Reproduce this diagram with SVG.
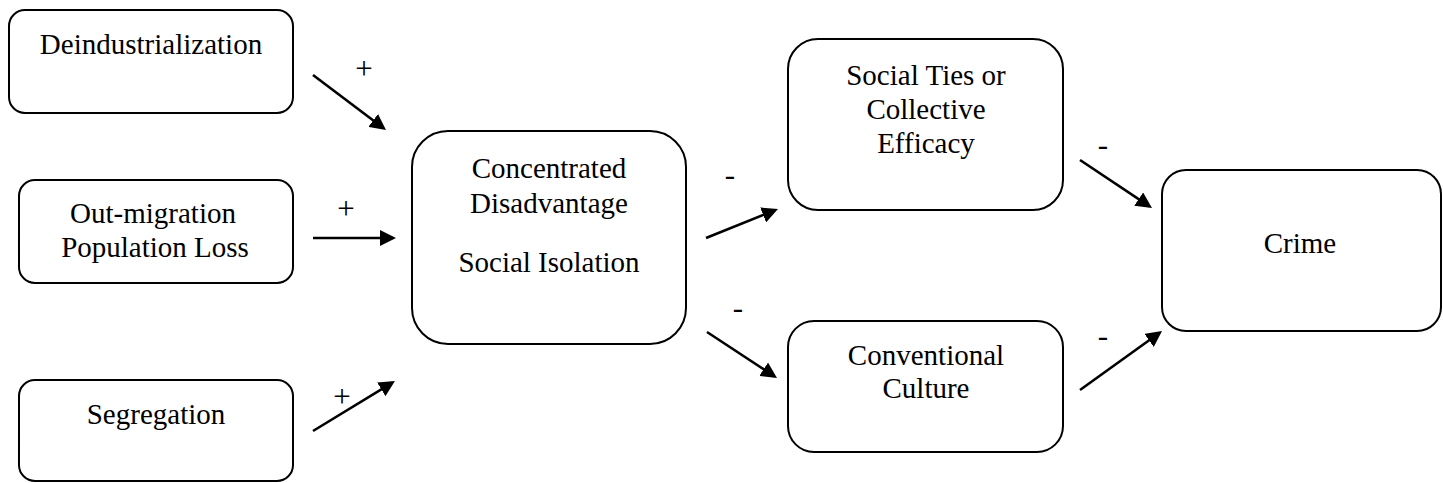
<svg xmlns="http://www.w3.org/2000/svg" width="1443" height="483" viewBox="0 0 1443 483">
<style>
.box{fill:#fff;stroke:#000;stroke-width:2}
.t{font-family:'Liberation Serif','Times New Roman',Times,serif;font-size:29px;fill:#000;text-anchor:middle}
.lab{font-family:'Liberation Serif','Times New Roman',Times,serif;font-size:31px;fill:#000;text-anchor:middle}
.c{stroke:#000;stroke-width:2.6;fill:none;marker-end:url(#ah)}
</style>
<defs>
<marker id="ah" markerUnits="userSpaceOnUse" markerWidth="17" markerHeight="16" refX="13" refY="8" orient="auto">
<path d="M0,0 L16,8 L0,16 z" fill="#000"/>
</marker>
</defs>
<rect width="1443" height="483" fill="#fff"/>
<g id="deind"><rect class="box" x="9" y="10" width="284" height="103" rx="16"/><text class="t" x="151" y="54">Deindustrialization</text></g>
<g id="outmig"><rect class="box" x="19" y="180" width="274" height="103" rx="16"/><text class="t" x="153" y="223">Out-migration</text><text class="t" x="155" y="257">Population Loss</text></g>
<g id="segr"><rect class="box" x="19" y="380" width="274" height="101" rx="16"/><text class="t" x="156" y="424">Segregation</text></g>
<g id="conc"><rect class="box" x="412" y="131" width="274" height="213" rx="36"/><text class="t" x="549" y="178">Concentrated</text><text class="t" x="549" y="213">Disadvantage</text><text class="t" x="549" y="272">Social Isolation</text></g>
<g id="ties"><rect class="box" x="788" y="39" width="275" height="171" rx="30"/><text class="t" x="926" y="85">Social Ties or</text><text class="t" x="926" y="119">Collective</text><text class="t" x="926" y="153">Efficacy</text></g>
<g id="conv"><rect class="box" x="788" y="321" width="275" height="131" rx="26"/><text class="t" x="926" y="365">Conventional</text><text class="t" x="926" y="398">Culture</text></g>
<g id="crime"><rect class="box" x="1162" y="170" width="279" height="161" rx="24"/><text class="t" x="1300" y="253">Crime</text></g>
<g id="connectors">
<line class="c" x1="313" y1="75" x2="383.6" y2="128.2"/>
<line class="c" x1="313" y1="238" x2="393" y2="238"/>
<line class="c" x1="313" y1="431" x2="392.4" y2="382.6"/>
<line class="c" x1="706" y1="238" x2="775.2" y2="210.1"/>
<line class="c" x1="707" y1="332" x2="774.5" y2="376.4"/>
<line class="c" x1="1080" y1="160" x2="1149.5" y2="206.3"/>
<line class="c" x1="1080" y1="390" x2="1159.6" y2="332.8"/>
<text class="lab" x="364" y="79">+</text>
<text class="lab" x="346" y="219">+</text>
<text class="lab" x="342" y="407">+</text>
<text class="lab" x="730" y="185">-</text>
<text class="lab" x="738" y="318">-</text>
<text class="lab" x="1103" y="155">-</text>
<text class="lab" x="1103" y="346">-</text>
</g>
</svg>
